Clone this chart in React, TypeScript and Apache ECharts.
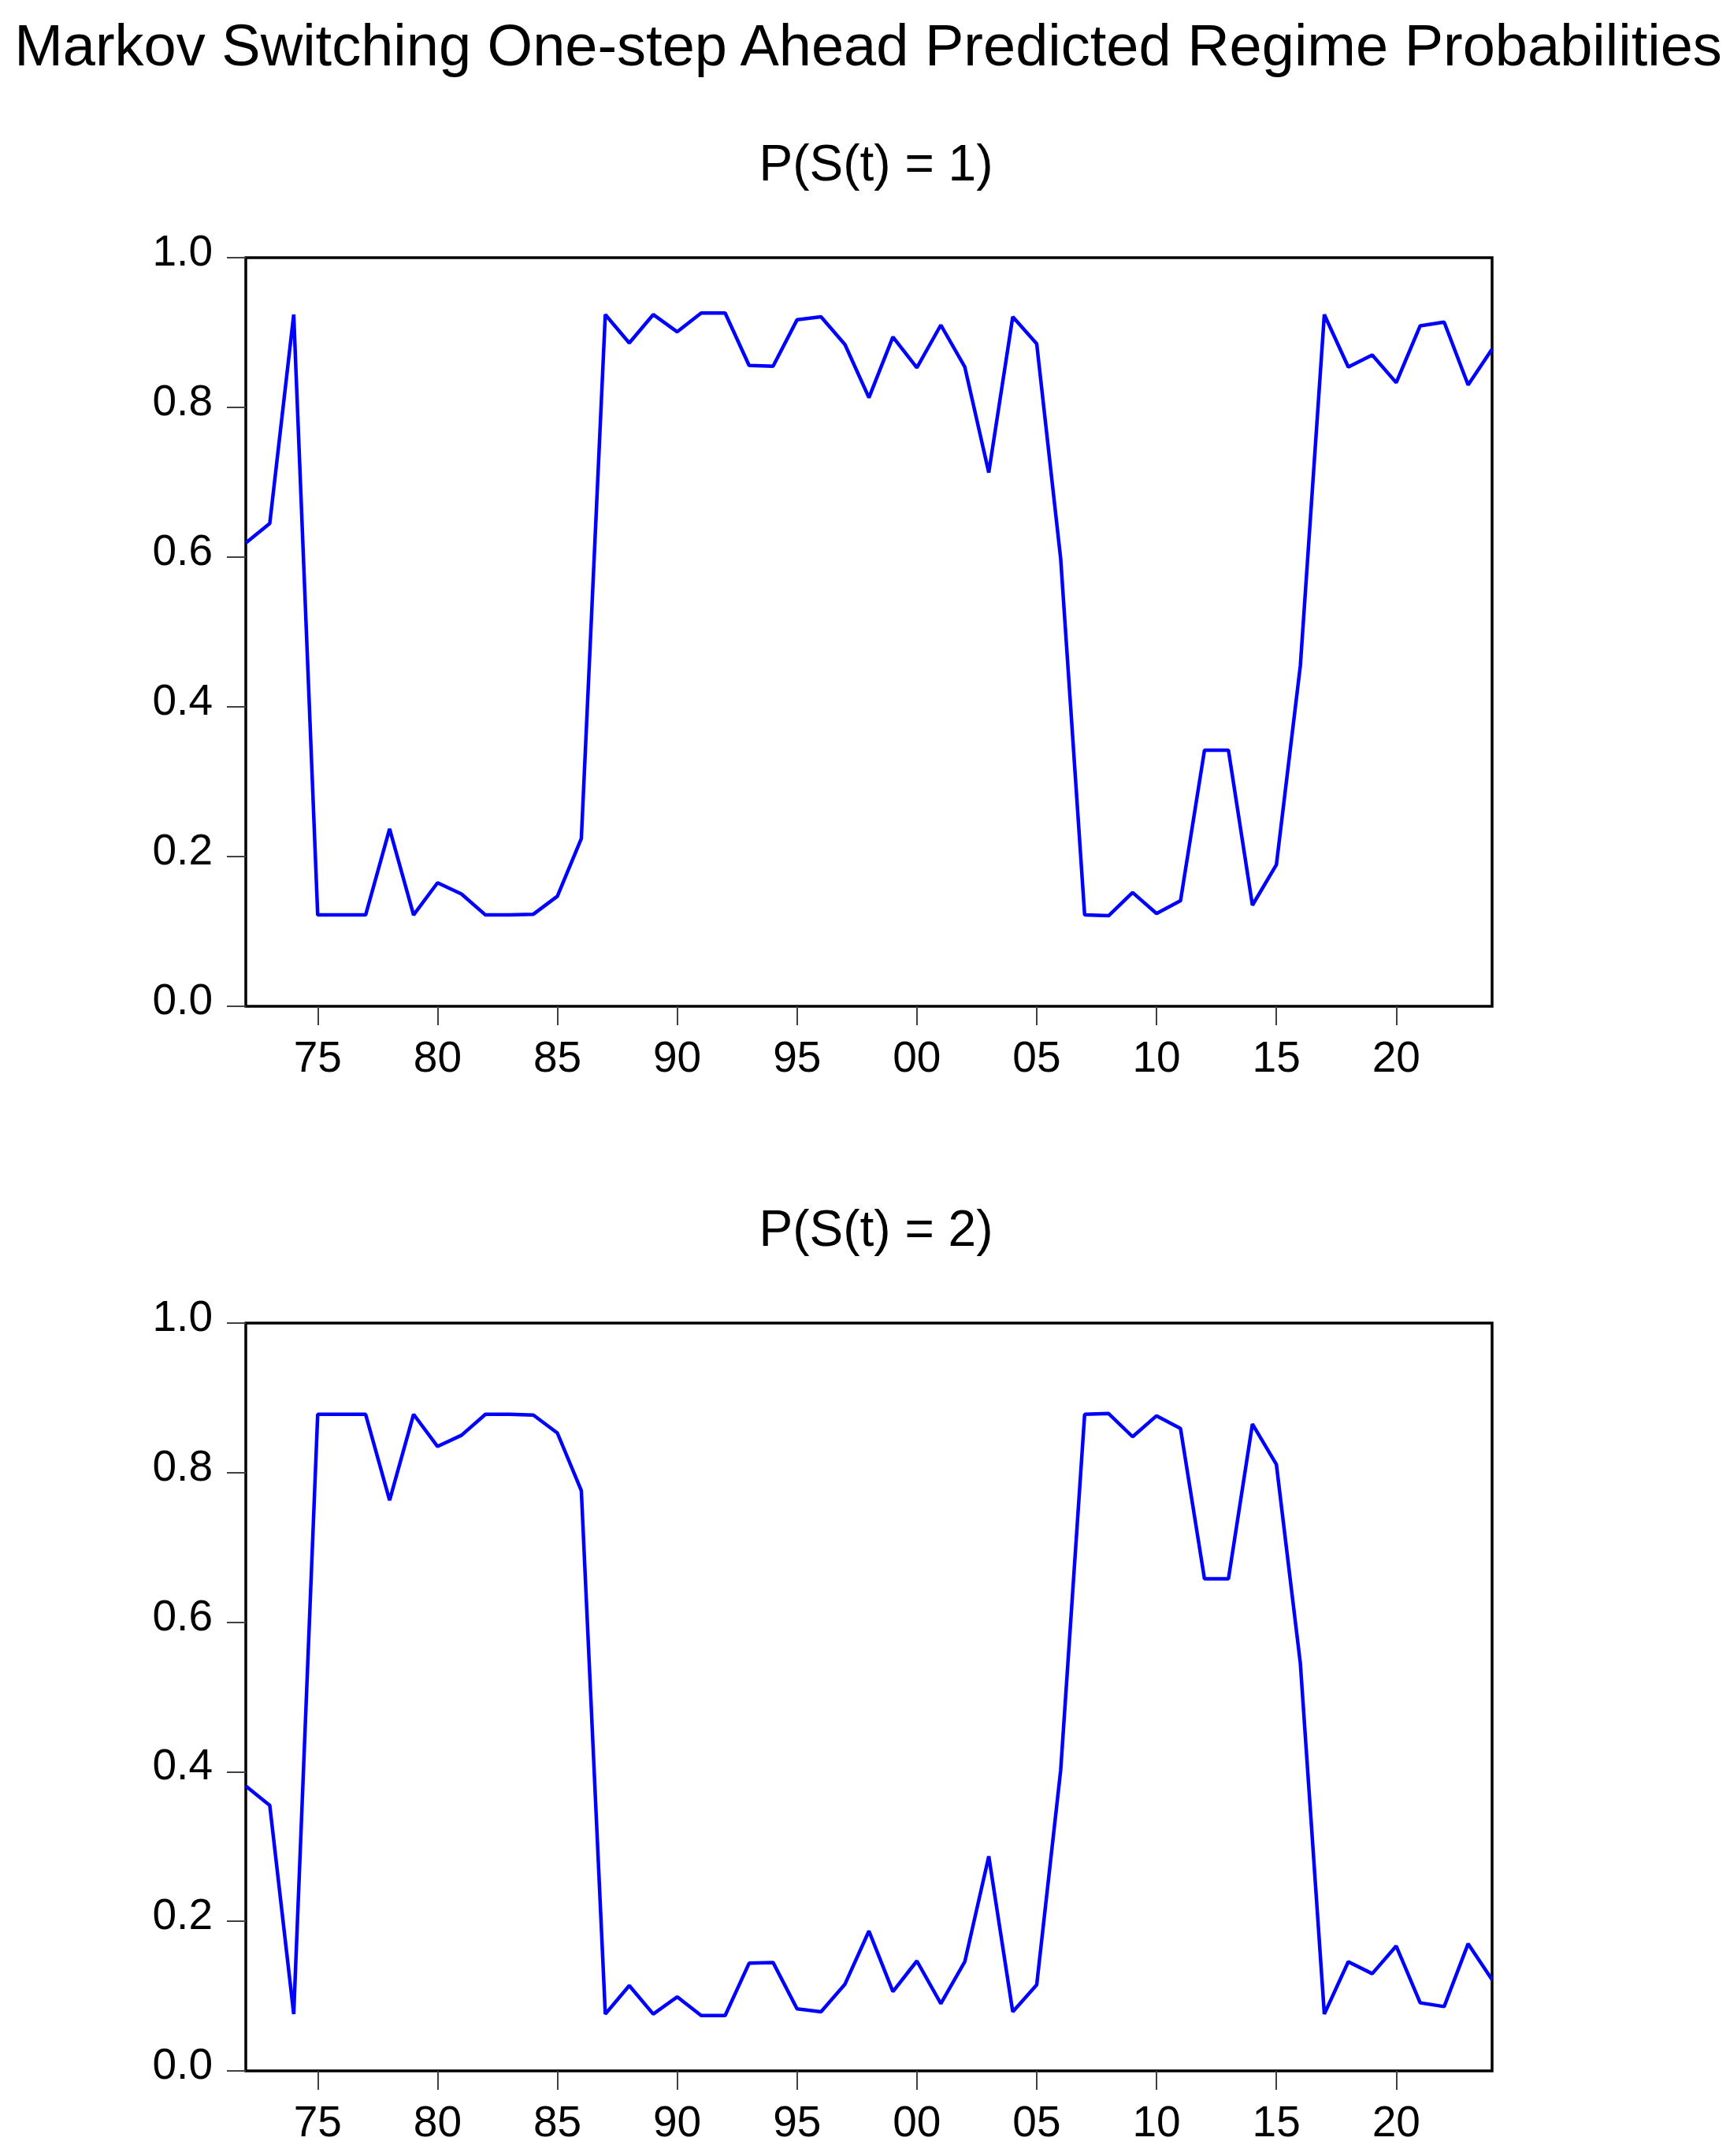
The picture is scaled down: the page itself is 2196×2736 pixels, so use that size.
import React, { useEffect, useRef } from "react";
import * as echarts from "echarts";

const years = [
  1972, 1973, 1974, 1975, 1976, 1977, 1978, 1979, 1980, 1981, 1982, 1983, 1984,
  1985, 1986, 1987, 1988, 1989, 1990, 1991, 1992, 1993, 1994, 1995, 1996, 1997,
  1998, 1999, 2000, 2001, 2002, 2003, 2004, 2005, 2006, 2007, 2008, 2009, 2010,
  2011, 2012, 2013, 2014, 2015, 2016, 2017, 2018, 2019, 2020, 2021, 2022, 2023,
  2024,
];

const probRegime1 = [
  0.619, 0.645, 0.924, 0.122, 0.122, 0.122, 0.237, 0.122, 0.165, 0.15, 0.122,
  0.122, 0.123, 0.147, 0.224, 0.924, 0.886, 0.924, 0.901, 0.926, 0.926, 0.856,
  0.855, 0.917, 0.921, 0.884, 0.813, 0.894, 0.853, 0.91, 0.854, 0.713, 0.921,
  0.885, 0.598, 0.122, 0.121, 0.152, 0.124, 0.141, 0.342, 0.342, 0.135, 0.189,
  0.455, 0.924, 0.854, 0.87, 0.833, 0.909, 0.914, 0.83, 0.878,
];

const probRegime2 = [
  0.381, 0.355, 0.076, 0.878, 0.878, 0.878, 0.763, 0.878, 0.835, 0.85, 0.878,
  0.878, 0.877, 0.853, 0.776, 0.076, 0.114, 0.076, 0.099, 0.074, 0.074, 0.144,
  0.145, 0.083, 0.079, 0.116, 0.187, 0.106, 0.147, 0.09, 0.146, 0.287, 0.079,
  0.115, 0.402, 0.878, 0.879, 0.848, 0.876, 0.859, 0.658, 0.658, 0.865, 0.811,
  0.545, 0.076, 0.146, 0.13, 0.167, 0.091, 0.086, 0.17, 0.122,
];

const xTickYears = [1975, 1980, 1985, 1990, 1995, 2000, 2005, 2010, 2015, 2020];

const chartTitle = "Markov Switching One-step Ahead Predicted Regime Probabilities";
const panelTitles = ["P(S(t) = 1)", "P(S(t) = 2)"];

const FONT = "'Liberation Sans', Arial, Helvetica, sans-serif";

export default function App() {
  const ref = useRef<HTMLDivElement>(null);

  useEffect(() => {
    document.body.style.margin = "0";
    if (!ref.current) return;
    const chart = echarts.init(ref.current, undefined, { renderer: "svg" });

    const grids = [
      { left: 312, top: 327, width: 1582, height: 950 },
      { left: 312, top: 1679, width: 1582, height: 949 },
    ];

    const xAxisFor = (gridIndex: number) => ({
      type: "value",
      gridIndex,
      min: 1972,
      max: 2024,
      axisLine: { show: false, onZero: false },
      splitLine: { show: false },
      axisTick: {
        show: true,
        inside: false,
        length: 24,
        customValues: xTickYears,
        lineStyle: { color: "#404040", width: 2 },
      },
      axisLabel: {
        show: true,
        customValues: xTickYears,
        margin: 36,
        fontSize: 55,
        lineHeight: 55,
        fontFamily: FONT,
        color: "#000",
        formatter: (v: number) => String(v % 100).padStart(2, "0"),
      },
    });

    const yAxisFor = (gridIndex: number) => ({
      type: "value",
      gridIndex,
      min: 0,
      max: 1,
      interval: 0.2,
      axisLine: { show: false },
      splitLine: { show: false },
      axisTick: {
        show: true,
        inside: false,
        length: 24,
        lineStyle: { color: "#404040", width: 2 },
      },
      axisLabel: {
        show: true,
        margin: 42,
        fontSize: 55,
        lineHeight: 18,
        verticalAlign: "bottom",
        fontFamily: FONT,
        color: "#000",
        formatter: (v: number) => v.toFixed(1),
      },
    });

    const seriesFor = (idx: number, values: number[]) => ({
      type: "line",
      xAxisIndex: idx,
      yAxisIndex: idx,
      data: years.map((y, i) => [y, values[i]]),
      symbol: "none",
      lineStyle: { color: "#0000FF", width: 4.5 },
      itemStyle: { color: "#0000FF" },
      clip: true,
    });

    chart.setOption({
      animation: false,
      backgroundColor: "#ffffff",
      grid: grids.map((g) => ({
        ...g,
        show: true,
        borderColor: "#000",
        borderWidth: 3.5,
        backgroundColor: "transparent",
        containLabel: false,
      })),
      xAxis: [xAxisFor(0), xAxisFor(1)],
      yAxis: [yAxisFor(0), yAxisFor(1)],
      series: [seriesFor(0, probRegime1), seriesFor(1, probRegime2)],
      graphic: [
        {
          type: "text",
          x: 1102,
          y: 57,
          style: {
            text: chartTitle,
            font: `74px ${FONT}`,
            fill: "#000",
            textAlign: "center",
            textVerticalAlign: "middle",
          },
        },
        {
          type: "text",
          x: 1112,
          y: 207,
          style: {
            text: panelTitles[0],
            font: `64px ${FONT}`,
            fill: "#000",
            textAlign: "center",
            textVerticalAlign: "middle",
          },
        },
        {
          type: "text",
          x: 1112,
          y: 1559,
          style: {
            text: panelTitles[1],
            font: `64px ${FONT}`,
            fill: "#000",
            textAlign: "center",
            textVerticalAlign: "middle",
          },
        },
      ],
    });

    return () => {
      chart.dispose();
    };
  }, []);

  return <div ref={ref} style={{ width: 2196, height: 2736 }} />;
}
